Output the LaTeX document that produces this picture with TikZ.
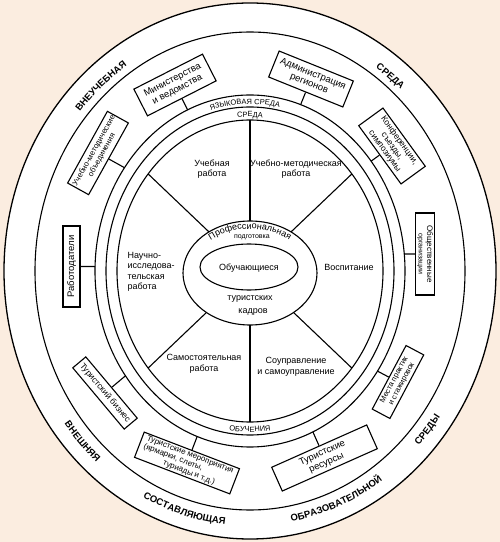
\documentclass[tikz,border=0pt]{standalone}
\usepackage{fontspec}
\setmainfont{Liberation Sans}
\usetikzlibrary{decorations.text,calc,intersections}
\definecolor{peach}{RGB}{251,237,224}
\begin{document}
\begin{tikzpicture}[x=1pt,y=1pt,
  lw/.style={line width=1.1pt},
  box/.style={draw,line width=1.1pt,fill=white,align=center,inner sep=0.5pt},
  sect/.style={align=center,font=\fontsize{9}{10.5}\selectfont},
  f95/.style={font=\fontsize{9.5}{10.5}\selectfont},
  f85/.style={font=\fontsize{8.5}{9}\selectfont},
  f75/.style={font=\fontsize{7.6}{8.6}\selectfont},
]
\fill[peach] (0,0) rectangle (500,542);
\useasboundingbox (0,0) rectangle (500,542);
\coordinate (C) at (250,271);
\filldraw[fill=white,line width=1.3pt] (C) ellipse [x radius=246pt, y radius=268pt];
\draw[lw] (C) ellipse [x radius=215pt, y radius=239pt];
\draw[lw,name path=r1] (C) ellipse [x radius=155pt, y radius=176pt];
\draw[lw] (C) ellipse [x radius=144pt, y radius=164pt];
\draw[lw] (C) ellipse [x radius=133pt, y radius=151pt];
\foreach \a in {40,90,140,220,270,320}
  \draw[lw] (C) -- ++(\a:133pt and 151pt);
\filldraw[lw,fill=white] (250,269) ellipse [x radius=67pt, y radius=52pt];
\draw[lw] (249,275) ellipse [x radius=49pt, y radius=23pt];

% outer labels
\path[decorate,decoration={text along path,text align=center,
  text={|\fontsize{9.5}{9.5}\selectfont\bfseries|ВНЕУЧЕБНАЯ}}]
  (C) ++(151.3:223pt and 246pt) arc[start angle=151.3,end angle=111.3,x radius=223pt,y radius=246pt];
\path[decorate,decoration={text along path,text align=center,
  text={|\fontsize{9.5}{9.5}\selectfont\bfseries|СРЕДА}}]
  (C) ++(71.9:223pt and 246pt) arc[start angle=71.9,end angle=31.9,x radius=223pt,y radius=246pt];
\path[decorate,decoration={text along path,text align=center,
  text={|\fontsize{9.5}{9.5}\selectfont\bfseries|ВНЕШНЯЯ}}]
  (C) ++(203:232pt and 255pt) arc[start angle=203,end angle=243,x radius=232pt,y radius=255pt];
\path[decorate,decoration={text along path,text align=center,
  text={|\fontsize{9.5}{9.5}\selectfont\bfseries|СОСТАВЛЯЮЩАЯ}}]
  (C) ++(233.3:232pt and 255pt) arc[start angle=233.3,end angle=273.3,x radius=232pt,y radius=255pt];
\path[decorate,decoration={text along path,text align=center,
  text={|\fontsize{9.5}{9.5}\selectfont\bfseries|ОБРАЗОВАТЕЛЬНОЙ}}]
  (C) ++(272.4:232pt and 255pt) arc[start angle=272.4,end angle=312.4,x radius=232pt,y radius=255pt];
\path[decorate,decoration={text along path,text align=center,
  text={|\fontsize{9.5}{9.5}\selectfont\bfseries|СРЕДЫ}}]
  (C) ++(300.6:232pt and 255pt) arc[start angle=300.6,end angle=340.6,x radius=232pt,y radius=255pt];

% ring labels
\path[decorate,decoration={text along path,text align=center,
  text={|\fontsize{7.5}{7.5}\selectfont|ЯЗЫКОВАЯ СРЕДА}}]
  (C) ++(112:147pt and 167pt) arc[start angle=112,end angle=72,x radius=147pt,y radius=167pt];
\path[decorate,decoration={text along path,text align=center,
  text={|\fontsize{7.5}{7.5}\selectfont|СРЕДА}}]
  (C) ++(110:136pt and 154pt) arc[start angle=110,end angle=70,x radius=136pt,y radius=154pt];
\path[decorate,decoration={text along path,text align=center,
  text={|\fontsize{7.5}{7.5}\selectfont|ОБУЧЕНИЯ}}]
  (C) ++(250:141pt and 161pt) arc[start angle=250,end angle=290,x radius=141pt,y radius=161pt];

% centre
\path[decorate,decoration={text along path,text align=center,
  text={|\fontsize{9}{9}\selectfont|Профессиональная}}]
  (250,269) ++(160:59pt and 44pt) arc[start angle=160,end angle=20,x radius=59pt,y radius=44pt];
\node[font=\fontsize{7}{7}\selectfont,inner sep=0.5pt] (pod) at (252,304.5) {подготовка};
\node[font=\fontsize{9}{9}\selectfont] (obu) at (249,274) {Обучающиеся};
\node[font=\fontsize{9}{9}\selectfont,inner sep=0.5pt] (tur) at (250,243) {туристских};
\node[font=\fontsize{9}{9}\selectfont,inner sep=0.5pt] (kad) at (253,230) {кадров};

% sectors
\node[sect] (s1) at (212,373) {Учебная\\работа};
\node[sect] (s2) at (296,373) {Учебно-методическая\\работа};
\node[sect,align=left,anchor=west] (s3) at (124,270) {Научно-\\исследова-\\тельская\\работа};
\node[sect] (s4) at (349,275) {Воспитание};
\node[sect] (s5) at (204,178) {Самостоятельная\\работа};
\node[sect] (s6) at (296,175) {Соуправление\\и самоуправление};

% boxes
\node[box,f95,rotate=27,minimum width=77pt,minimum height=30pt] (b1) at (175,457) {Министерства\\и ведомства};
\node[box,f95,rotate=-22,minimum width=80pt,minimum height=28pt] (b2) at (311,463) {Администрация\\регионов};
\node[box,f85,rotate=-54,minimum width=72pt,minimum height=30pt] (b3) at (392,396) {Конференции,\\съезды,\\симпозиумы};
\node[box,font=\fontsize{8}{8.5}\selectfont,rotate=-90,minimum width=82pt,minimum height=19pt] (b4) at (425,288) {Общественные\\{\fontsize{7}{8.5}\selectfont организации}};
\node[box,f75,rotate=62,minimum width=72pt,minimum height=20pt] (b5) at (398,160) {Места практик\\и стажировок};
\node[box,f95,rotate=24,minimum width=104pt,minimum height=26pt] (b6) at (324.5,84) {Туристские\\ресурсы};
\node[box,font=\fontsize{8}{8.6}\selectfont,rotate=-21,minimum width=102pt,minimum height=27pt,align=left] (b7) at (187,79) {Туристские мероприятия\\(ярмарки, слеты,\\\hspace*{3em}туриады и т.д.)};
\node[box,font=\fontsize{8.5}{8.5}\selectfont,rotate=-50,minimum width=80pt,minimum height=17pt] (b8) at (105,149) {Туристский бизнес};
\node[box,font=\fontsize{9.5}{9.5}\selectfont,rotate=90,minimum width=81pt,minimum height=17pt] (b9) at (71.5,275.5) {Работодатели};
\node[box,font=\fontsize{7.8}{8.8}\selectfont,rotate=61,minimum width=82pt,minimum height=24pt] (b10) at (98,389) {Учебно-методические\\объединения};

% stems
\foreach \b/\an in {b1/south,b2/south,b3/south,b4/south,b5/north,b6/north,b7/north,b8/north,b9/south,b10/south}{
  \path[name path=stem] (\b.\an) -- ($(\b.center)!6!(\b.\an)$);
  \path[name intersections={of=r1 and stem,by=p\b}];
  \draw[lw] (\b.\an) -- (p\b);
}
\end{tikzpicture}
\end{document}
